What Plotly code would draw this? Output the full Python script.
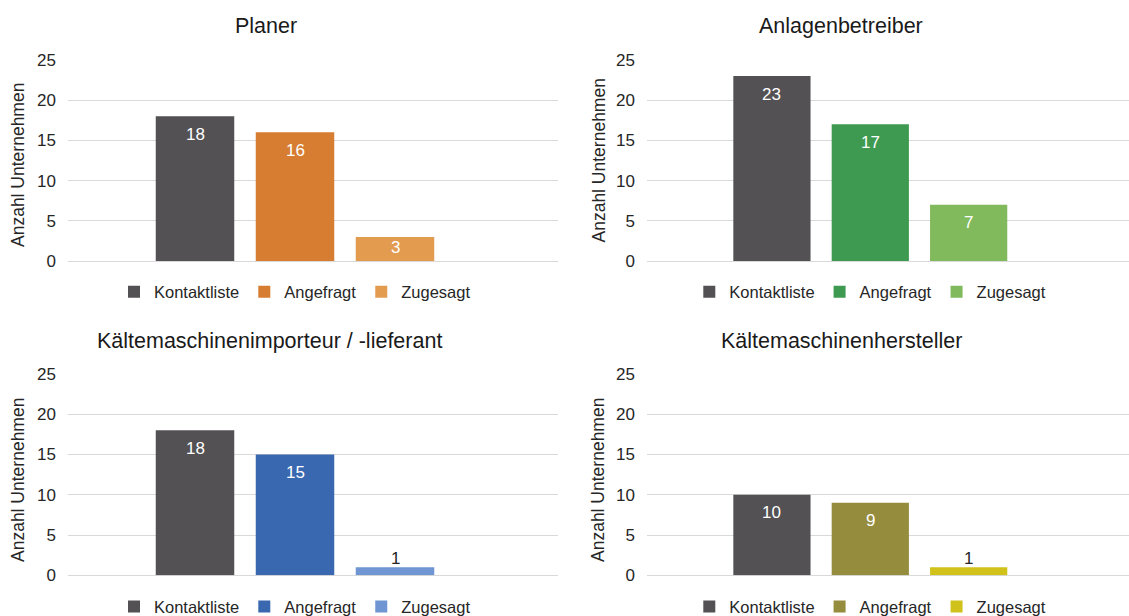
import plotly.graph_objects as go

# ---------------- data ----------------
panel_titles = ["Planer", "Anlagenbetreiber",
                "Kältemaschinenimporteur / -lieferant", "Kältemaschinenhersteller"]
series_names = ["Kontaktliste", "Angefragt", "Zugesagt"]
kontaktliste = [18, 23, 18, 10]
angefragt = [16, 17, 15, 9]
zugesagt = [3, 7, 1, 1]
y_title = "Anzahl Unternehmen"
y_ticks = [0, 5, 10, 15, 20, 25]

# ---------------- styles ----------------
panel_colors = [
    ["#535154", "#D77D31", "#E39B50"],
    ["#535154", "#3E9A50", "#80BA5C"],
    ["#535154", "#3A68B0", "#6F95D2"],
    ["#535154", "#968C3E", "#D0C21A"],
]
W, H = 1129, 616
FONT = "Liberation Sans, Arial, sans-serif"
TXT = "#262626"
GRID = "#D9D9D9"
Y_MAX = 25

# panel geometry in pixels (left, right, top(25), bottom(0))
geom = [
    (68, 558, 60, 261),
    (647, 1129, 60, 261),
    (68, 558, 374, 575.3),
    (647, 1129, 374, 575.3),
]
title_pos = [(265.5, 26), (841.3, 26), (269.2, 340.7), (841.3, 340.7)]
ytitle_pos = [(18, 165), (598, 160.5), (18, 480), (598, 480)]
legend_y = [292, 292, 606.7, 606.7]

fig = go.Figure()
values = [kontaktliste, angefragt, zugesagt]
label_annotations = []

for p in range(4):
    ax = "" if p == 0 else str(p + 1)
    l, r, t, b = geom[p]
    ppu = (b - t) / Y_MAX  # pixels per unit on the y axis
    for s, name in enumerate(series_names):
        v = values[s][p]
        fig.add_trace(go.Bar(
            x=[s], y=[v], name=name, width=0.785,
            marker=dict(color=panel_colors[p][s], line=dict(width=0)),
            hovertemplate=name + ": %{y}<extra></extra>",
            xaxis="x" + ax, yaxis="y" + ax,
            legend="legend" + ax,
            showlegend=True,
        ))
        # data label (Excel "inside end" style)
        bar_px = v * ppu
        if bar_px >= 20:
            shift = -min(18.0, bar_px - 13.7)
            col = "white"
        else:
            shift = 8.5
            col = TXT
        label_annotations.append(dict(
            text=str(v), x=s, y=v, xref="x" + ax, yref="y" + ax,
            xanchor="center", yanchor="middle", yshift=shift, showarrow=False,
            font=dict(size=17, color=col, family=FONT),
        ))

layout = dict(
    width=W, height=H, autosize=False,
    margin=dict(l=0, r=0, t=0, b=0, autoexpand=False),
    paper_bgcolor="white", plot_bgcolor="white",
    barmode="overlay",
    font=dict(family=FONT, color=TXT),
    annotations=list(label_annotations),
)

for p in range(4):
    ax = "" if p == 0 else str(p + 1)
    l, r, t, b = geom[p]
    layout["xaxis" + ax] = dict(
        domain=[l / W, r / W], range=[-1.27, 3.63],
        showticklabels=False, showgrid=False, zeroline=False, showline=False,
        anchor="y" + ax, fixedrange=True,
    )
    layout["yaxis" + ax] = dict(
        domain=[1 - b / H, 1 - t / H], range=[0, Y_MAX], tickvals=y_ticks,
        showgrid=True, gridcolor=GRID, gridwidth=1,
        zeroline=True, zerolinecolor=GRID, zerolinewidth=1,
        showline=False, ticks="", ticklabelstandoff=11,
        tickfont=dict(size=17, color=TXT, family=FONT),
        anchor="x" + ax, fixedrange=True,
    )
    # legend centered on the bar cluster
    cx = (l + (r - l) * (1 + 1.27) / 4.9) / W
    layout["legend" + ax] = dict(
        orientation="h", x=cx, xanchor="center",
        y=1 - legend_y[p] / H, yanchor="middle",
        font=dict(size=16.5, color=TXT, family=FONT),
        bgcolor="rgba(0,0,0,0)", itemclick=False, itemdoubleclick=False,
        tracegroupgap=0,
    )
    tx, ty = title_pos[p]
    layout["annotations"].append(dict(
        text=panel_titles[p], x=tx / W, y=1 - ty / H, xref="paper", yref="paper",
        xanchor="center", yanchor="middle", showarrow=False,
        font=dict(size=21.5, color="#1a1a1a", family=FONT),
    ))
    ax_x, ax_y = ytitle_pos[p]
    layout["annotations"].append(dict(
        text=y_title, x=ax_x / W, y=1 - ax_y / H, xref="paper", yref="paper",
        xanchor="center", yanchor="middle", showarrow=False, textangle=-90,
        font=dict(size=17.5, color=TXT, family=FONT),
    ))

fig.update_layout(**layout)
fig.write_html("out.html")
